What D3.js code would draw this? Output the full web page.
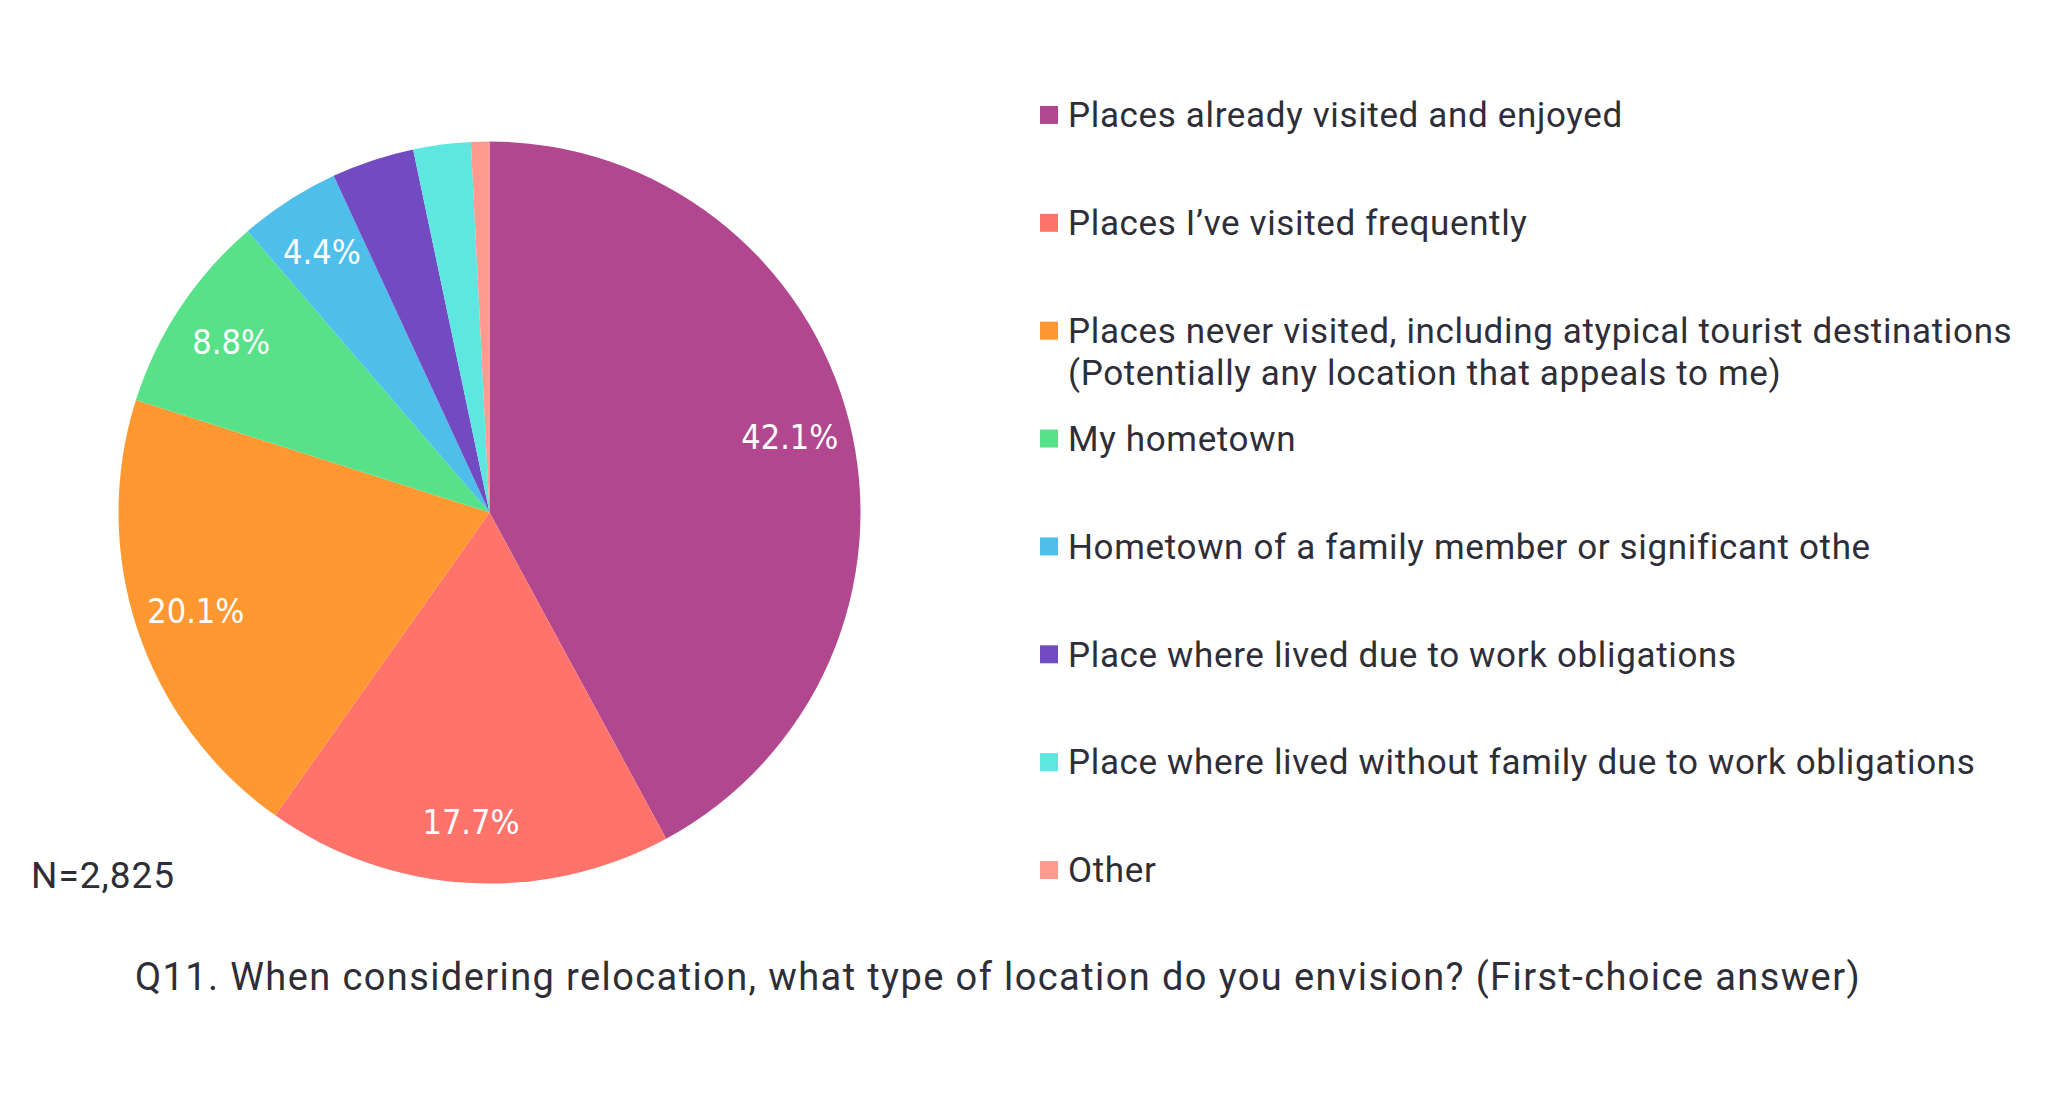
<!DOCTYPE html>
<html>
<head>
<meta charset="utf-8">
<script src="https://cdn.jsdelivr.net/npm/d3@7"></script>
<style>
  html, body { margin: 0; padding: 0; background: #ffffff; }
  svg { display: block; }
</style>
</head>
<body>
<svg id="chart" width="2048" height="1100"></svg>
<script>
// ---- data ----
const categories = [
  "Places already visited and enjoyed",
  "Places I’ve visited frequently",
  "Places never visited, including atypical tourist destinations|(Potentially any location that appeals to me)",
  "My hometown",
  "Hometown of a family member or significant othe",
  "Place where lived due to work obligations",
  "Place where lived without family due to work obligations",
  "Other"
];
const values = [42.1, 17.7, 20.1, 8.8, 4.4, 3.6, 2.5, 0.8];
const showLabel = [true, true, true, true, true, false, false, false];
const colors = ["#B1488F", "#FF736A", "#FF9831", "#57E189", "#4EBEEB", "#724BC3", "#5EE6E0", "#FF9A91"];
const sampleNote = "N=2,825";
const titleText = "Q11. When considering relocation, what type of location do you envision? (First-choice answer)";

// ---- layout ----
const svg = d3.select("#chart");
const cx = 489.5, cy = 512.5, R = 371;
const textColor = "#2E2E38";

const pie = d3.pie().sort(null).value(d => d.v);
const arcs = pie(values.map((v, i) => ({ v, i })));
const arc = d3.arc().innerRadius(0).outerRadius(R);
const labelArc = d3.arc().innerRadius(R * 0.835).outerRadius(R * 0.835);

const g = svg.append("g").attr("transform", `translate(${cx},${cy})`);
g.selectAll("path.slice")
  .data(arcs)
  .join("path")
  .attr("class", "slice")
  .attr("d", arc)
  .attr("fill", d => colors[d.data.i]);

g.selectAll("text.pct")
  .data(arcs.filter(d => showLabel[d.data.i]))
  .join("text")
  .attr("class", "pct")
  .attr("transform", d => `translate(${labelArc.centroid(d)})`)
  .attr("text-anchor", "middle")
  .attr("dy", "0.36em")
  .attr("fill", "#ffffff")
  .style("font-family", "'DejaVu Sans Condensed', 'DejaVu Sans', sans-serif")
  .style("font-size", "34px")
  .text(d => d.data.v.toFixed(1) + "%");

// ---- legend ----
const legendRows = d3.scaleBand().domain(d3.range(categories.length)).range([61, 924]);
const lg = svg.append("g");
const items = lg.selectAll("g.item")
  .data(categories.map((c, i) => ({ c, i })))
  .join("g")
  .attr("class", "item")
  .attr("transform", d => `translate(1040, ${legendRows(d.i) + legendRows.bandwidth() / 2})`);

items.append("rect")
  .attr("x", 0).attr("y", -9)
  .attr("width", 18).attr("height", 18)
  .attr("fill", d => colors[d.i]);

items.each(function (d) {
  const lines = d.c.split("|");
  const t = d3.select(this).append("text")
    .attr("x", 28)
    .attr("fill", textColor)
    .style("font-family", "Roboto, 'Open Sans', sans-serif")
    .style("font-size", "35px")
    .style("letter-spacing", "0.65px");
  lines.forEach((ln, k) => {
    t.append("tspan").attr("x", 28).attr("y", k * 42).attr("dy", "0.35em").text(ln);
  });
});

// ---- notes ----
svg.append("text")
  .attr("x", 31).attr("y", 888)
  .attr("fill", textColor)
  .style("font-family", "Roboto, sans-serif")
  .style("font-size", "37px")
  .style("letter-spacing", "1px")
  .text(sampleNote);

svg.append("text")
  .attr("x", 998).attr("y", 990)
  .attr("text-anchor", "middle")
  .attr("fill", textColor)
  .style("font-family", "Roboto, sans-serif")
  .style("font-size", "38px")
  .style("letter-spacing", "1.4px")
  .text(titleText);
</script>
</body>
</html>
